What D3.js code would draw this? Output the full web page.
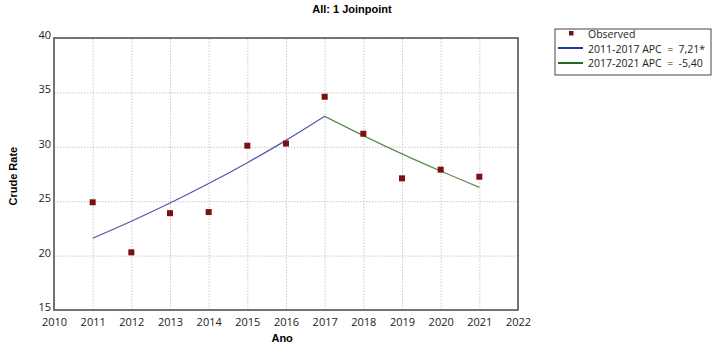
<!DOCTYPE html>
<html>
<head>
<meta charset="utf-8">
<title>All: 1 Joinpoint</title>
<script src="https://cdn.jsdelivr.net/npm/d3@7"></script>
<style>
	body { margin: 0; background: #fff; }
	.tick text { font-family: "Open Sans", sans-serif; font-size: 11px; fill: #222; }
	.grid line { stroke: #c8c8c8; stroke-dasharray: 1.5 1.5; }
	.grid path { display: none; }
	.lt { white-space: pre; }
</style>
</head>
<body>
<svg id="chart" width="714" height="343"></svg>
<script>
// observed crude rates
var years = [2011, 2012, 2013, 2014, 2015, 2016, 2017, 2018, 2019, 2020, 2021]
var observed = [24.9, 20.3, 23.9, 24.0, 30.1, 30.3, 34.6, 31.2, 27.1, 27.9, 27.25]

// modelled segments (joinpoint fit)
var seg1Years = [2011, 2012, 2013, 2014, 2015, 2016, 2017]
var seg1Values = [21.6, 23.16, 24.83, 26.62, 28.54, 30.59, 32.8]
var seg2Years = [2017, 2018, 2019, 2020, 2021]
var seg2Values = [32.8, 31.03, 29.35, 27.77, 26.27]

var legendLabels = ['Observed', '2011-2017 APC  =  7,21*', '2017-2021 APC  =  -5,40']
var xTicks = [2010, 2011, 2012, 2013, 2014, 2015, 2016, 2017, 2018, 2019, 2020, 2021, 2022]
var yTicks = [15, 20, 25, 30, 35, 40]

var margin = {top: 38, left: 54, right: 196, bottom: 33}
var svg = d3.select('#chart')
var W = +svg.attr('width'), H = +svg.attr('height')
var w = W - margin.left - margin.right
var h = H - margin.top - margin.bottom

var x = d3.scaleLinear().domain([2010, 2022]).range([0, w])
var y = d3.scaleLinear().domain([15, 40]).range([h, 0])

var g = svg.append('g').attr('transform', 'translate(' + margin.left + ',' + margin.top + ')')

// grid
g.append('g').attr('class', 'grid')
	.attr('transform', 'translate(0,' + h + ')')
	.call(d3.axisBottom(x).tickValues(xTicks).tickSize(-h).tickFormat(''))
g.append('g').attr('class', 'grid')
	.call(d3.axisLeft(y).tickValues(yTicks).tickSize(-w).tickFormat(''))

// axes labels
var xa = g.append('g').attr('transform', 'translate(0,' + h + ')')
	.call(d3.axisBottom(x).tickValues(xTicks).tickSize(0).tickPadding(8).tickFormat(d3.format('d')))
xa.select('.domain').remove()
var ya = g.append('g')
	.call(d3.axisLeft(y).tickValues(yTicks).tickSize(0).tickPadding(3))
ya.select('.domain').remove()
ya.selectAll('.tick text').attr('dy', '0.05em')

// frame
g.append('rect').attr('width', w).attr('height', h)
	.attr('fill', 'none').attr('stroke', '#555').attr('stroke-width', 1.6)

var line = d3.line().x(function(d) { return x(d[0]) }).y(function(d) { return y(d[1]) }).curve(d3.curveMonotoneX)

g.append('path')
	.datum(d3.zip(seg1Years, seg1Values))
	.attr('d', line).attr('fill', 'none').attr('stroke', '#5555b0').attr('stroke-width', 1.2)
g.append('path')
	.datum(d3.zip(seg2Years, seg2Values))
	.attr('d', line).attr('fill', 'none').attr('stroke', '#5e8a4e').attr('stroke-width', 1.2)

g.selectAll('.obs')
	.data(d3.zip(years, observed))
	.enter().append('rect')
	.attr('class', 'obs')
	.attr('x', function(d) { return x(d[0]) - 3 })
	.attr('y', function(d) { return y(d[1]) - 3 })
	.attr('width', 6).attr('height', 6)
	.attr('fill', '#7a1010')

// titles
svg.append('text').attr('x', 352).attr('y', 13)
	.attr('text-anchor', 'middle')
	.style('font-family', '"Liberation Sans", Arial, sans-serif').style('font-weight', 'bold').style('font-size', '11px')
	.text('All: 1 Joinpoint')
svg.append('text').attr('x', margin.left + x(2015.9)).attr('y', 342)
	.attr('text-anchor', 'middle')
	.style('font-family', '"Liberation Sans", Arial, sans-serif').style('font-weight', 'bold').style('font-size', '11px')
	.text('Ano')
svg.append('text')
	.attr('transform', 'translate(17,' + (margin.top + y(27.3)) + ') rotate(-90)')
	.attr('text-anchor', 'middle')
	.style('font-family', '"Liberation Sans", Arial, sans-serif').style('font-weight', 'bold').style('font-size', '11px')
	.text('Crude Rate')

// legend
var lg = svg.append('g').attr('transform', 'translate(555,29)')
lg.append('rect').attr('width', 156).attr('height', 46)
	.attr('fill', '#fff').attr('stroke', '#444').attr('stroke-width', 1)
lg.append('rect').attr('x', 14).attr('y', 2).attr('width', 4.5).attr('height', 4.5).attr('fill', '#7a1010')
lg.append('line').attr('x1', 3).attr('x2', 28).attr('y1', 19).attr('y2', 19).attr('stroke', '#1f3a9a').attr('stroke-width', 2)
lg.append('line').attr('x1', 3).attr('x2', 28).attr('y1', 34).attr('y2', 34).attr('stroke', '#236b23').attr('stroke-width', 2)
lg.selectAll('.lt')
	.data(legendLabels)
	.enter().append('text')
	.attr('class', 'lt')
	.attr('x', 33)
	.attr('y', function(d, i) { return 9 + i * 14.5 })
	.style('font-family', '"Open Sans", sans-serif').style('font-size', '10.5px').attr('fill', '#222')
	.text(function(d) { return d })
</script>
</body>
</html>
